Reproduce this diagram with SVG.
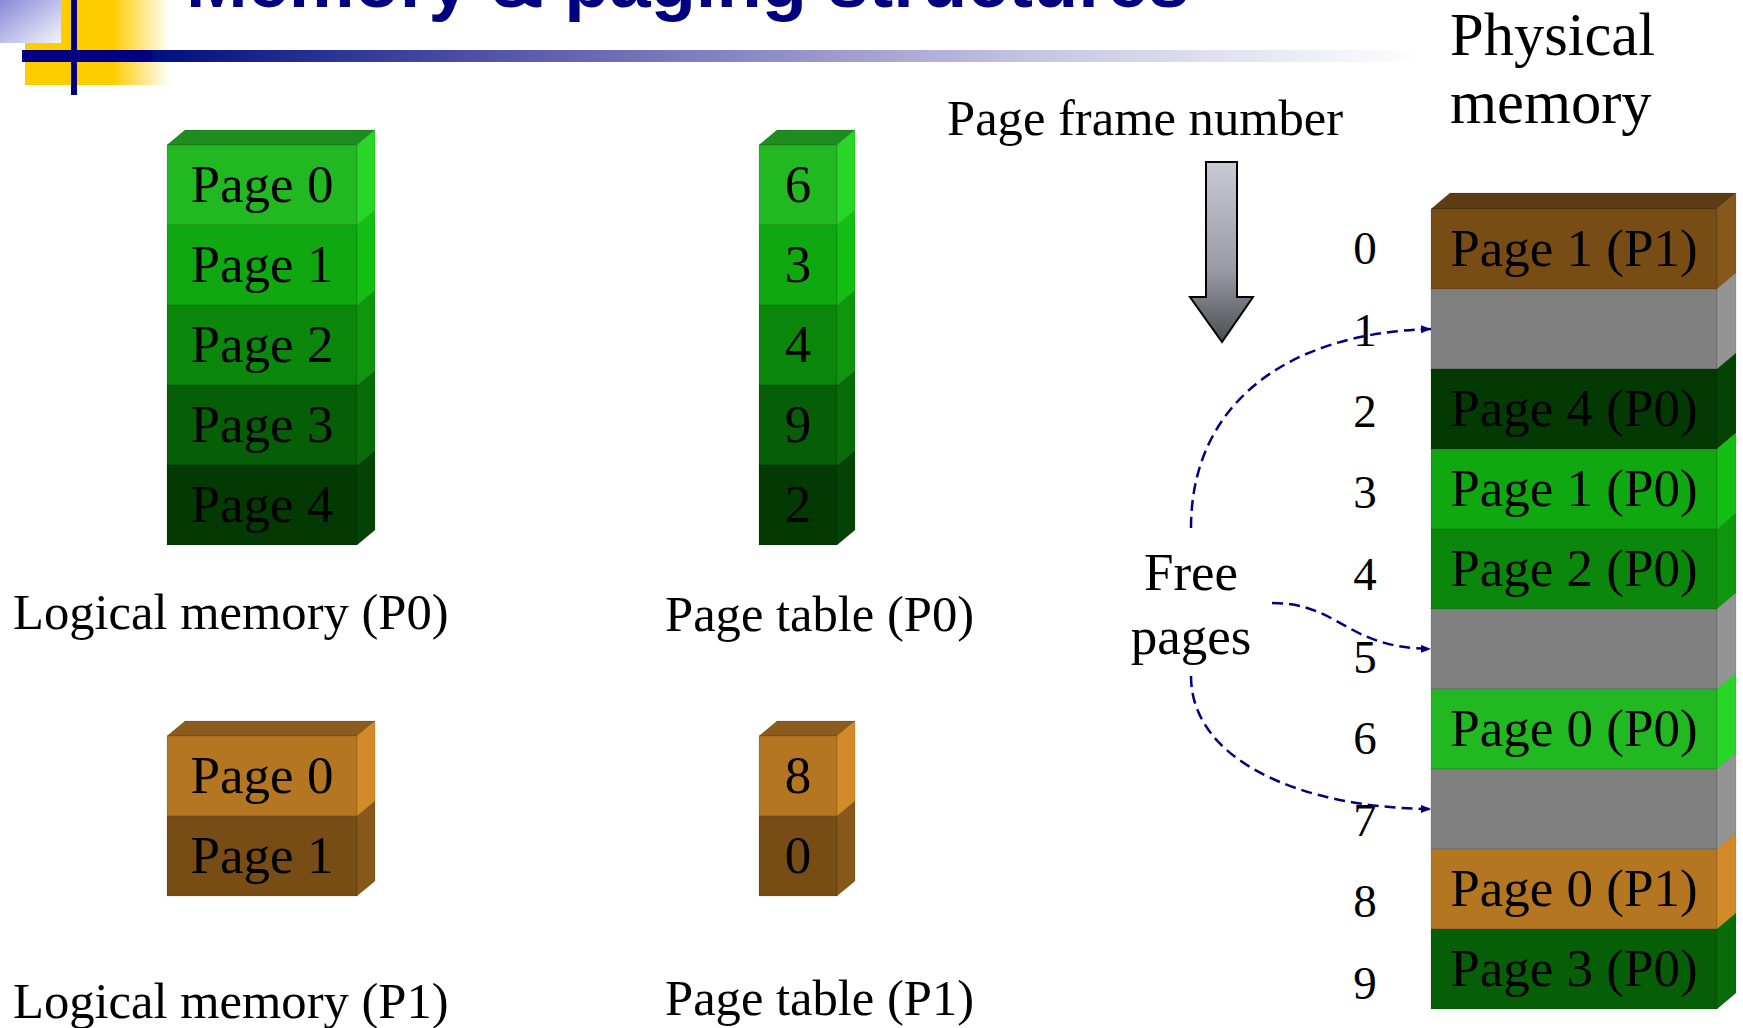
<svg xmlns="http://www.w3.org/2000/svg" width="1743" height="1028" viewBox="0 0 1743 1028">
  <defs>
    <linearGradient id="gBar" x1="0" y1="0" x2="1" y2="0">
      <stop offset="0" stop-color="#000f80"/>
      <stop offset="0.35" stop-color="#6a6ab4"/>
      <stop offset="0.7" stop-color="#c6c6e4"/>
      <stop offset="1" stop-color="#ffffff"/>
    </linearGradient>
    <linearGradient id="gYellow" x1="0" y1="0" x2="1" y2="0">
      <stop offset="0" stop-color="#ffcc00"/>
      <stop offset="0.6" stop-color="#ffcc00"/>
      <stop offset="1" stop-color="#ffffff"/>
    </linearGradient>
    <linearGradient id="gLav" x1="0" y1="0" x2="1" y2="1">
      <stop offset="0" stop-color="#8888d8"/>
      <stop offset="1" stop-color="#f4f4fc"/>
    </linearGradient>
    <linearGradient id="gArrow" x1="0" y1="0" x2="0" y2="1">
      <stop offset="0" stop-color="#cacad6"/>
      <stop offset="0.6" stop-color="#9a9aa4"/>
      <stop offset="1" stop-color="#4c4c52"/>
    </linearGradient>
    <marker id="head" viewBox="0 0 10 8" refX="10" refY="4" markerWidth="10" markerHeight="8" markerUnits="userSpaceOnUse" orient="auto">
      <path d="M0,0 L10,4 L0,8 Z" fill="#000080"/>
    </marker>
  </defs>
  <style>
    .lbl { font-family: "Liberation Serif", "Times New Roman", serif; fill: #000; }
    .cell { font-size: 53px; text-anchor: middle; }
    .cap { font-size: 50.6px; }
    .num { font-size: 47px; text-anchor: middle; }
    .face { stroke: rgba(0,0,0,0.12); stroke-width: 1; }
    .g0 { fill: #21b821; } .g0s { fill: #27d627; }
    .g1 { fill: #10a810; } .g1s { fill: #12bf12; }
    .g2 { fill: #0b880b; } .g2s { fill: #0e970e; }
    .g3 { fill: #065f06; } .g3s { fill: #086d08; }
    .g4 { fill: #033a03; } .g4s { fill: #044304; }
    .gt { fill: #1d8d1d; }
    .b0 { fill: #b47620; } .b0s { fill: #d38a28; }
    .b1 { fill: #774d15; } .b1s { fill: #86581a; }
    .bt { fill: #8a5c1e; } .bt2 { fill: #5c3c12; }
    .gr { fill: #808080; } .grs { fill: #949494; }
    .link { fill: none; stroke: #000080; stroke-width: 2.5; stroke-dasharray: 11 6; marker-end: url(#head); }
  </style>

  <rect width="1743" height="1028" fill="#ffffff"/>

  <!-- slide header decoration -->
  <g id="header">
    <rect x="25" y="0" width="145" height="85" fill="url(#gYellow)"/>
    <rect x="0" y="0" width="61" height="43" fill="url(#gLav)"/>
    <rect x="22" y="50" width="130" height="12" fill="#000080"/>
    <rect x="152" y="50" width="1270" height="12" fill="url(#gBar)"/>
    <rect x="71" y="0" width="6" height="95" fill="#000080"/>
    <text x="186" y="7" font-family="Liberation Sans, Arial, sans-serif" font-weight="bold" font-size="74" fill="#000080">Memory &amp; paging structures</text>
  </g>

  <!-- logical memory of process P0 -->
  <g id="logical-p0">
    <polygon class="face gt" points="167,145 185,130 375,130 357,145"/>
    <rect class="face g0" x="167" y="145" width="190" height="80"/>
    <polygon class="face g0s" points="357,145 375,130 375,210 357,225"/>
    <rect class="face g1" x="167" y="225" width="190" height="80"/>
    <polygon class="face g1s" points="357,225 375,210 375,290 357,305"/>
    <rect class="face g2" x="167" y="305" width="190" height="80"/>
    <polygon class="face g2s" points="357,305 375,290 375,370 357,385"/>
    <rect class="face g3" x="167" y="385" width="190" height="80"/>
    <polygon class="face g3s" points="357,385 375,370 375,450 357,465"/>
    <rect class="face g4" x="167" y="465" width="190" height="80"/>
    <polygon class="face g4s" points="357,465 375,450 375,530 357,545"/>
    <text class="lbl cell" x="262" y="202">Page 0</text>
    <text class="lbl cell" x="262" y="282">Page 1</text>
    <text class="lbl cell" x="262" y="362">Page 2</text>
    <text class="lbl cell" x="262" y="442">Page 3</text>
    <text class="lbl cell" x="262" y="522">Page 4</text>
    <text class="lbl cap" x="13" y="629">Logical memory (P0)</text>
  </g>

  <!-- page table of process P0 -->
  <g id="pagetable-p0">
    <polygon class="face gt" points="759,145 777,130 855,130 837,145"/>
    <rect class="face g0" x="759" y="145" width="78" height="80"/>
    <polygon class="face g0s" points="837,145 855,130 855,210 837,225"/>
    <rect class="face g1" x="759" y="225" width="78" height="80"/>
    <polygon class="face g1s" points="837,225 855,210 855,290 837,305"/>
    <rect class="face g2" x="759" y="305" width="78" height="80"/>
    <polygon class="face g2s" points="837,305 855,290 855,370 837,385"/>
    <rect class="face g3" x="759" y="385" width="78" height="80"/>
    <polygon class="face g3s" points="837,385 855,370 855,450 837,465"/>
    <rect class="face g4" x="759" y="465" width="78" height="80"/>
    <polygon class="face g4s" points="837,465 855,450 855,530 837,545"/>
    <text class="lbl cell" x="798" y="202">6</text>
    <text class="lbl cell" x="798" y="282">3</text>
    <text class="lbl cell" x="798" y="362">4</text>
    <text class="lbl cell" x="798" y="442">9</text>
    <text class="lbl cell" x="798" y="522">2</text>
    <text class="lbl cap" x="665" y="631">Page table (P0)</text>
  </g>

  <!-- logical memory of process P1 -->
  <g id="logical-p1">
    <polygon class="face bt" points="167,736 185,721 375,721 357,736"/>
    <rect class="face b0" x="167" y="736" width="190" height="80"/>
    <polygon class="face b0s" points="357,736 375,721 375,801 357,816"/>
    <rect class="face b1" x="167" y="816" width="190" height="80"/>
    <polygon class="face b1s" points="357,816 375,801 375,881 357,896"/>
    <text class="lbl cell" x="262" y="793">Page 0</text>
    <text class="lbl cell" x="262" y="873">Page 1</text>
    <text class="lbl cap" x="13" y="1018">Logical memory (P1)</text>
  </g>

  <!-- page table of process P1 -->
  <g id="pagetable-p1">
    <polygon class="face bt" points="759,736 777,721 855,721 837,736"/>
    <rect class="face b0" x="759" y="736" width="78" height="80"/>
    <polygon class="face b0s" points="837,736 855,721 855,801 837,816"/>
    <rect class="face b1" x="759" y="816" width="78" height="80"/>
    <polygon class="face b1s" points="837,816 855,801 855,881 837,896"/>
    <text class="lbl cell" x="798" y="793">8</text>
    <text class="lbl cell" x="798" y="873">0</text>
    <text class="lbl cap" x="665" y="1015">Page table (P1)</text>
  </g>

  <!-- page frame number caption and arrow -->
  <g id="frame-number">
    <text class="lbl cap" x="947" y="135">Page frame number</text>
    <path d="M1206,162 L1237,162 L1237,297 L1253,297 L1222,342 L1190,297 L1206,297 Z" fill="url(#gArrow)" stroke="#000" stroke-width="2" stroke-linejoin="miter"/>
  </g>

  <!-- frame indices -->
  <g id="frame-indices">
    <text class="lbl num" x="1365" y="264">0</text>
    <text class="lbl num" x="1365" y="346">1</text>
    <text class="lbl num" x="1365" y="427">2</text>
    <text class="lbl num" x="1365" y="508">3</text>
    <text class="lbl num" x="1365" y="590">4</text>
    <text class="lbl num" x="1365" y="673">5</text>
    <text class="lbl num" x="1365" y="754">6</text>
    <text class="lbl num" x="1365" y="836">7</text>
    <text class="lbl num" x="1365" y="917">8</text>
    <text class="lbl num" x="1365" y="999">9</text>
  </g>

  <!-- physical memory -->
  <g id="physical-memory">
    <text class="lbl" x="1450" y="55" font-size="60.5">Physical</text>
    <text class="lbl" x="1450" y="123" font-size="60.5">memory</text>
    <polygon class="face bt2" points="1431,209 1450,193 1736,193 1717,209"/>
    <rect class="face b1" x="1431" y="209" width="286" height="80"/>
    <polygon class="face b1s" points="1717,209 1736,193 1736,273 1717,289"/>
    <rect class="face gr" x="1431" y="289" width="286" height="80"/>
    <polygon class="face grs" points="1717,289 1736,273 1736,353 1717,369"/>
    <rect class="face g4" x="1431" y="369" width="286" height="80"/>
    <polygon class="face g4s" points="1717,369 1736,353 1736,433 1717,449"/>
    <rect class="face g1" x="1431" y="449" width="286" height="80"/>
    <polygon class="face g1s" points="1717,449 1736,433 1736,513 1717,529"/>
    <rect class="face g2" x="1431" y="529" width="286" height="80"/>
    <polygon class="face g2s" points="1717,529 1736,513 1736,593 1717,609"/>
    <rect class="face gr" x="1431" y="609" width="286" height="80"/>
    <polygon class="face grs" points="1717,609 1736,593 1736,673 1717,689"/>
    <rect class="face g0" x="1431" y="689" width="286" height="80"/>
    <polygon class="face g0s" points="1717,689 1736,673 1736,753 1717,769"/>
    <rect class="face gr" x="1431" y="769" width="286" height="80"/>
    <polygon class="face grs" points="1717,769 1736,753 1736,833 1717,849"/>
    <rect class="face b0" x="1431" y="849" width="286" height="80"/>
    <polygon class="face b0s" points="1717,849 1736,833 1736,913 1717,929"/>
    <rect class="face g3" x="1431" y="929" width="286" height="80"/>
    <polygon class="face g3s" points="1717,929 1736,913 1736,993 1717,1009"/>
    <text class="lbl cell" x="1574" y="266">Page 1 (P1)</text>
    <text class="lbl cell" x="1574" y="426">Page 4 (P0)</text>
    <text class="lbl cell" x="1574" y="506">Page 1 (P0)</text>
    <text class="lbl cell" x="1574" y="586">Page 2 (P0)</text>
    <text class="lbl cell" x="1574" y="746">Page 0 (P0)</text>
    <text class="lbl cell" x="1574" y="906">Page 0 (P1)</text>
    <text class="lbl cell" x="1574" y="986">Page 3 (P0)</text>
  </g>

  <!-- free page list label -->
  <g id="free-pages">
    <text class="lbl cell" x="1191" y="590">Free</text>
    <text class="lbl cell" x="1191" y="654">pages</text>
  </g>

  <!-- links from the free list to empty frames -->
  <g id="connectors">
    <path class="link" d="M1191,528 C1191,405 1285,333 1431,329"/>
    <path class="link" d="M1272,603 C1340,603 1345,648 1431,649"/>
    <path class="link" d="M1191,676 C1191,760 1300,808 1431,809"/>
  </g>
</svg>
